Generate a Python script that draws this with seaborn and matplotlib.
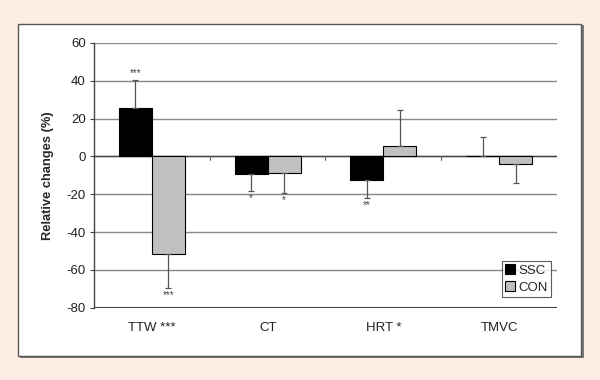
import numpy as np
import pandas as pd
import matplotlib
matplotlib.use("Agg")
import matplotlib.pyplot as plt
from matplotlib.patches import Rectangle
import seaborn as sns

categories = ["TTW ***", "CT", "HRT *", "TMVC"]
groups = ["SSC", "CON"]
ssc_values = [25.5, -9.2, -12.7, 0.4]
con_values = [-51.5, -8.8, 5.3, -3.9]
ssc_err = [15.0, 9.2, 9.3, 10.0]
con_err = [18.3, 10.7, 19.1, 10.3]
ssc_stars = ["***", "*", "**", ""]
con_stars = ["***", "*", "", ""]

df = pd.DataFrame({
    "category": categories * 2,
    "group": ["SSC"] * 4 + ["CON"] * 4,
    "value": ssc_values + con_values,
})

sns.set_style("white")
plt.rcParams["font.family"] = ["Liberation Sans", "DejaVu Sans"]
plt.rcParams["axes.unicode_minus"] = False

fig = plt.figure(figsize=(6, 3.8), dpi=100)
fig.patch.set_facecolor("#FDEDE2")
# white inner panel with dark border and shadow
fig.patches.append(Rectangle((20 / 600, 1 - 358 / 380), 564 / 600, 333 / 380,
                             transform=fig.transFigure, facecolor="#7a7a7a",
                             edgecolor="none", zorder=-2))
fig.patches.append(Rectangle((18 / 600, 1 - 356 / 380), 563 / 600, 332 / 380,
                             transform=fig.transFigure, facecolor="white",
                             edgecolor="#555555", linewidth=1.0, zorder=-1))

ax = fig.add_axes([94 / 600, 1 - 307.7 / 380, 463 / 600, 264.7 / 380])
ax.set_zorder(2)
ax.set_facecolor("none")

sns.barplot(data=df, x="category", y="value", hue="group", hue_order=groups,
            palette={"SSC": "black", "CON": "#C0C0C0"}, order=categories,
            errorbar=None, width=0.57, edgecolor="black", linewidth=0.8,
            ax=ax, zorder=3)

for cont, vals, errs, stars in zip(ax.containers, [ssc_values, con_values],
                                   [ssc_err, con_err], [ssc_stars, con_stars]):
    for bar, v, e, s in zip(cont, vals, errs, stars):
        xc = bar.get_x() + bar.get_width() / 2
        sign = 1 if v >= 0 else -1
        lo = [0] if sign > 0 else [e]
        hi = [e] if sign > 0 else [0]
        ax.errorbar([xc], [v], yerr=[lo, hi], fmt="none", ecolor="#555555",
                    elinewidth=0.9, capsize=2.5, capthick=0.9, zorder=4)
        if s:
            yend = v + sign * e
            ax.text(xc, yend + sign * 3.5, s, ha="center", va="center",
                    fontsize=7, color="#444444")

ax.set_ylim(-80, 60)
ax.set_xlim(-0.5, 3.5)
ax.set_yticks(np.arange(-80, 61, 20))
ax.yaxis.grid(True, color="#888888", linewidth=1.0)
ax.set_axisbelow(True)
ax.axhline(0, color="#444444", linewidth=1.0, zorder=2)
ax.axhline(-80, color="#444444", linewidth=1.5, zorder=2)
for xb in [0.5, 1.5, 2.5, 3.5]:
    ax.plot([xb, xb], [0, -2], color="#666666", linewidth=0.8, zorder=2)

for sp in ["top", "right", "bottom"]:
    ax.spines[sp].set_visible(False)
ax.spines["left"].set_color("#444444")
ax.spines["left"].set_linewidth(1.0)

ax.tick_params(axis="y", left=True, length=3, color="#444444", labelsize=9.5,
               pad=3, labelcolor="#222222")
ax.tick_params(axis="x", bottom=False, labelsize=9.5, pad=7, labelcolor="#222222")
ax.set_xlabel("")
ax.set_ylabel("Relative changes (%)", fontsize=9.3, fontweight="bold", labelpad=9)

leg = ax.legend(loc="lower right", bbox_to_anchor=(0.988, 0.04), frameon=True,
                fancybox=False, edgecolor="#333333", fontsize=9.5,
                handlelength=0.8, handleheight=0.8, handletextpad=0.25,
                borderpad=0.25, labelspacing=0.35, borderaxespad=0)
leg.get_frame().set_linewidth(0.8)

fig.savefig("out.png", dpi=100, facecolor=fig.get_facecolor())
